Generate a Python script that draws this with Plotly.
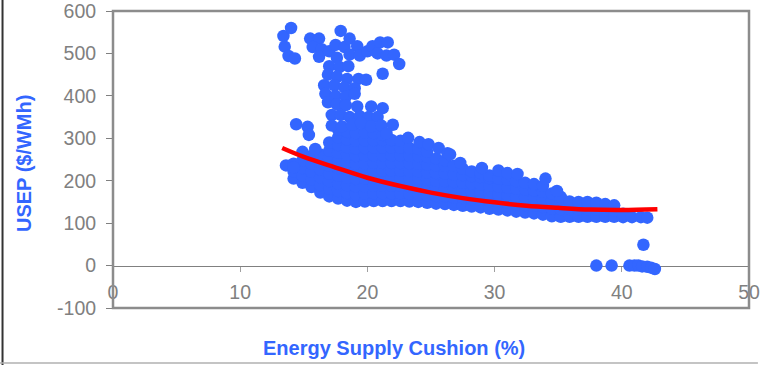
import plotly.graph_objects as go

# ---- Data ----
# High-price scattered points (Energy Supply Cushion %, USEP $/MWh)
high_x = [13.4, 14.0, 13.5, 13.8, 14.3,
          15.5, 16.2, 15.7, 16.4, 16.2, 17.0, 17.6, 17.9, 17.5, 18.2, 18.6, 19.2, 18.6, 19.4,
          20.0, 20.4, 21.0, 21.6, 20.8, 21.5, 22.1, 22.5, 21.2,
          17.0, 17.8, 18.5, 16.9, 17.6, 18.4, 19.3, 19.9, 16.6, 17.4, 18.2, 19.0,
          16.7, 17.5, 18.3, 19.0, 16.9, 17.6, 18.3, 19.2, 20.3, 21.2,
          17.2, 17.9, 18.6, 19.4, 20.1, 20.8, 17.2, 18.0, 18.8, 19.5, 20.3, 21.1, 22.0,
          14.4, 15.3, 15.4, 15.9, 14.9, 14.2,
          21.5, 23.2, 24.1, 24.8, 25.6, 26.3, 26.5, 27.3, 29.0, 30.3, 31.0, 31.8, 34.0, 34.9]
high_y = [541, 560, 516, 494, 488,
          535, 535, 515, 510, 492, 505, 490, 553, 520, 515, 535, 517, 497, 495,
          505, 517, 526, 526, 500, 495, 497, 475, 452,
          470, 468, 470, 450, 445, 440, 440, 438, 425, 425, 420, 418,
          405, 400, 398, 405, 385, 380, 378, 375, 375, 371,
          355, 355, 350, 352, 350, 350, 330, 328, 332, 336, 328, 330, 332,
          333, 327, 308, 275, 268, 232,
          312, 301, 291, 286, 277, 265, 262, 242, 230, 224, 218, 216, 205, 176]

# Dense band: one x per column, with the prices read in that column
band_x = [13.6, 14.2, 14.9, 15.6, 16.3, 17.0, 17.7, 18.4, 19.1, 19.8, 20.5, 21.2, 21.9, 22.6,
          23.3, 24.0, 24.7, 25.4, 26.1, 26.8, 27.5, 28.2, 28.9, 29.6, 30.3, 31.0, 31.7, 32.4,
          33.1, 33.8, 34.5, 35.2, 35.9, 36.6, 37.3, 38.0, 38.7, 39.4, 40.1, 40.8, 41.5, 42.0]
band_y = [
    [236],
    [205, 222, 240],
    [195, 212, 230, 248],
    [185, 203, 221, 240, 258],
    [172, 190, 208, 226, 244, 262],
    [163, 181, 199, 217, 235, 253, 271, 290],
    [158, 176, 194, 212, 230, 248, 266, 284, 302, 320],
    [153, 171, 189, 207, 225, 243, 261, 279, 297, 315],
    [150, 168, 186, 204, 222, 240, 258, 276, 294, 312],
    [151, 169, 187, 205, 223, 241, 259, 277, 295, 313],
    [152, 170, 188, 206, 224, 242, 260, 278, 296, 312],
    [152, 170, 188, 206, 224, 242, 260, 278, 296, 308],
    [152, 170, 188, 206, 224, 242, 260, 278, 296],
    [152, 170, 188, 206, 224, 242, 260, 278, 294],
    [151, 169, 187, 205, 223, 241, 259, 277],
    [150, 168, 186, 204, 222, 240, 258, 275],
    [148, 166, 184, 202, 220, 238, 256, 268],
    [146, 164, 182, 200, 218, 236, 252],
    [145, 163, 181, 199, 217, 235, 248],
    [143, 161, 179, 197, 215, 235],
    [141, 159, 177, 195, 213, 228],
    [139, 157, 175, 193, 211, 222],
    [137, 155, 173, 191, 209, 218],
    [134, 152, 170, 188, 206, 212],
    [132, 150, 168, 186, 205],
    [130, 148, 166, 184, 202],
    [127, 145, 163, 181, 199],
    [125, 143, 161, 179, 195],
    [123, 141, 159, 177, 192],
    [120, 138, 156, 174, 188],
    [116, 134, 152, 170],
    [115, 133, 151, 162],
    [115, 133, 151],
    [115, 133, 150],
    [115, 133, 150],
    [115, 132, 148],
    [115, 131, 145],
    [115, 130, 142],
    [114, 122],
    [114],
    [114],
    [113],
]

# Near-zero price points
zero_x = [38.0, 39.2, 40.6, 41.0, 41.3, 41.6, 42.0, 42.3, 42.6, 41.7]
zero_y = [0, 0, 0, 0, 0, -2, -3, -5, -8, 49]

# Trend line
trend_x = [13.3, 15.0, 17.5, 20.0, 22.5, 25.0, 27.5, 30.0, 32.5, 35.0, 37.5, 40.0, 42.8]
trend_y = [277, 256, 231, 207, 188, 172, 159, 149, 141, 136, 132, 131, 133]

x_ticks = [0, 10, 20, 30, 40, 50]
y_ticks = [-100, 0, 100, 200, 300, 400, 500, 600]

# ---- Build ----
pts_x, pts_y = [], []
for cx, ys in zip(band_x, band_y):
    for yy in ys:
        pts_x.append(cx)
        pts_y.append(yy)
pts_x += high_x + zero_x
pts_y += high_y + zero_y

BLUE = "#3366FF"
GRAY = "#808080"
FONT = "Arial, Liberation Sans, sans-serif"

fig = go.Figure()
fig.add_trace(go.Scatter(x=pts_x, y=pts_y, mode="markers",
                         marker=dict(color=BLUE, size=12.5, line=dict(width=0)),
                         showlegend=False, hoverinfo="skip"))
fig.add_trace(go.Scatter(x=trend_x, y=trend_y, mode="lines",
                         line=dict(color="#FF0000", width=4.5, shape="spline"),
                         showlegend=False, hoverinfo="skip"))

fig.update_layout(
    width=774, height=365,
    margin=dict(l=113, r=25, t=11, b=57),
    paper_bgcolor="white", plot_bgcolor="white",
    font=dict(family=FONT, color=GRAY, size=19),
    xaxis=dict(range=[0, 50], tickvals=x_ticks, ticktext=[str(v) for v in x_ticks],
               showgrid=False, zeroline=False, showline=True, linecolor=GRAY, linewidth=1,
               anchor="free", position=1/7, ticks="outside", ticklen=5, tickcolor="#A0A0A0",
               tickfont=dict(size=19.5, color=GRAY, family=FONT), layer="below traces",
               ticklabelstandoff=4, automargin=False, ticklabeloverflow="allow"),
    yaxis=dict(range=[-100, 600], tickvals=y_ticks, ticktext=[str(v) for v in y_ticks],
               showgrid=False, zeroline=False, showline=False, ticks="outside",
               ticklen=6, tickcolor=GRAY, tickfont=dict(size=19.5, color=GRAY, family=FONT),
               ticklabelstandoff=6, automargin=False, ticklabeloverflow="allow"),
    shapes=[
        dict(type="rect", xref="paper", yref="paper", x0=0, x1=1, y0=0, y1=1,
             line=dict(color="#8C8C8C", width=2.5), layer="above"),
        dict(type="line", xref="paper", yref="paper", x0=-0.1737, x1=-0.1737, y0=-0.2, y1=1.05,
             line=dict(color="#333333", width=2)),
        dict(type="line", xref="paper", yref="paper", x0=-0.18, x1=1.014, y0=-0.1852, y1=-0.1852,
             line=dict(color="#B0B0B0", width=1.5)),
    ],
    annotations=[
        dict(text="<b>Energy Supply Cushion (%)</b>", xref="paper", yref="paper",
             x=(394 - 113) / 636, y=(308 - 348) / 297, xanchor="center", yanchor="middle",
             showarrow=False, font=dict(size=20, color=BLUE, family=FONT)),
        dict(text="<b>USEP ($/WMh)</b>", xref="paper", yref="paper", textangle=-90,
             x=(24 - 113) / 636, y=(308 - 164) / 297, xanchor="center", yanchor="middle",
             showarrow=False, font=dict(size=20, color=BLUE, family=FONT)),
    ],
)

fig.write_html("out.html", config={"displayModeBar": False},
               post_script="document.body.style.margin='0';document.body.style.padding='0';")
